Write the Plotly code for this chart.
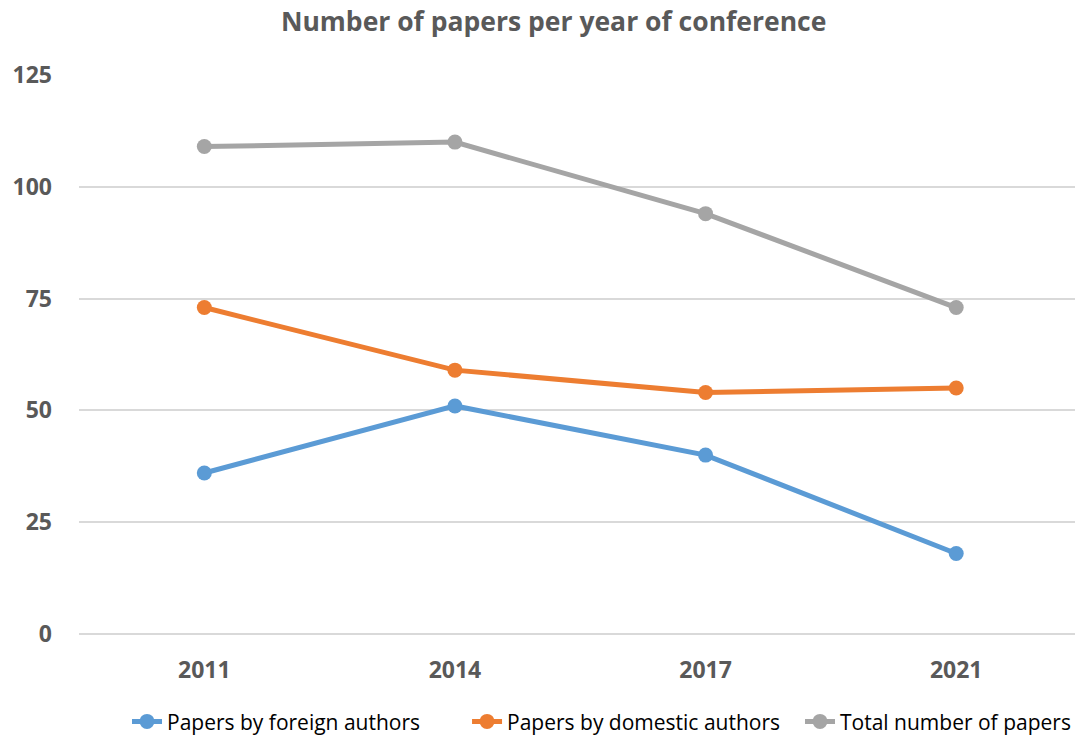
import plotly.graph_objects as go

years = ["2011", "2014", "2017", "2021"]
foreign = [36, 51, 40, 18]
domestic = [73, 59, 54, 55]
total = [109, 110, 94, 73]

names = ["Papers by foreign authors", "Papers by domestic authors", "Total number of papers"]
colors = ["#5B9BD5", "#ED7D31", "#A5A5A5"]
series = [foreign, domestic, total]
legend_ids = ["legend", "legend2", "legend3"]
legend_x = [0.0482, 0.3896, 0.7239]

FONT = "Open Sans, sans-serif"

fig = go.Figure()
for nm, vals, c, lg in zip(names, series, colors, legend_ids):
    fig.add_trace(go.Scatter(
        x=list(range(len(years))), y=vals, name=nm, mode="lines+markers",
        line=dict(color=c, width=5), marker=dict(color=c, size=15), legend=lg,
    ))

legend_style = dict(orientation="h", xanchor="left", y=-0.157, yanchor="middle",
                    font=dict(size=21, color="#000000"), bgcolor="rgba(0,0,0,0)")

fig.update_layout(
    width=1075, height=738,
    paper_bgcolor="white", plot_bgcolor="white",
    margin=dict(l=79, r=0, t=75, b=104, autoexpand=False),
    font=dict(family=FONT, color="#595959"),
    title=dict(text="<b>Number of papers per year of conference</b>",
               x=0.515, xanchor="center", y=0.97, yanchor="middle",
               font=dict(size=26.5, color="#595959", family=FONT)),
    xaxis=dict(tickmode="array", tickvals=list(range(len(years))), ticktext=[f"<b>{y}</b>" for y in years],
               range=[-0.5, 3.474], showgrid=False, zeroline=False, showline=False,
               tickfont=dict(size=23, color="#595959"), ticks="", ticklabelstandoff=20),
    yaxis=dict(range=[0, 125], dtick=25, tick0=0, showgrid=True, gridcolor="#D9D9D9", gridwidth=1.5,
               zeroline=True, zerolinecolor="#D9D9D9", zerolinewidth=1.5, showline=False, ticks="",
               tickfont=dict(size=23, color="#595959", weight="bold"), ticklabelstandoff=26),
    legend=dict(x=legend_x[0], **legend_style),
    legend2=dict(x=legend_x[1], **legend_style),
    legend3=dict(x=legend_x[2], **legend_style),
    showlegend=True,
)
fig.update_yaxes(tickformat="d")
fig.write_html("out.html", config={"displayModeBar": False},
               post_script="document.body.style.margin='0';document.body.style.overflow='hidden';")
